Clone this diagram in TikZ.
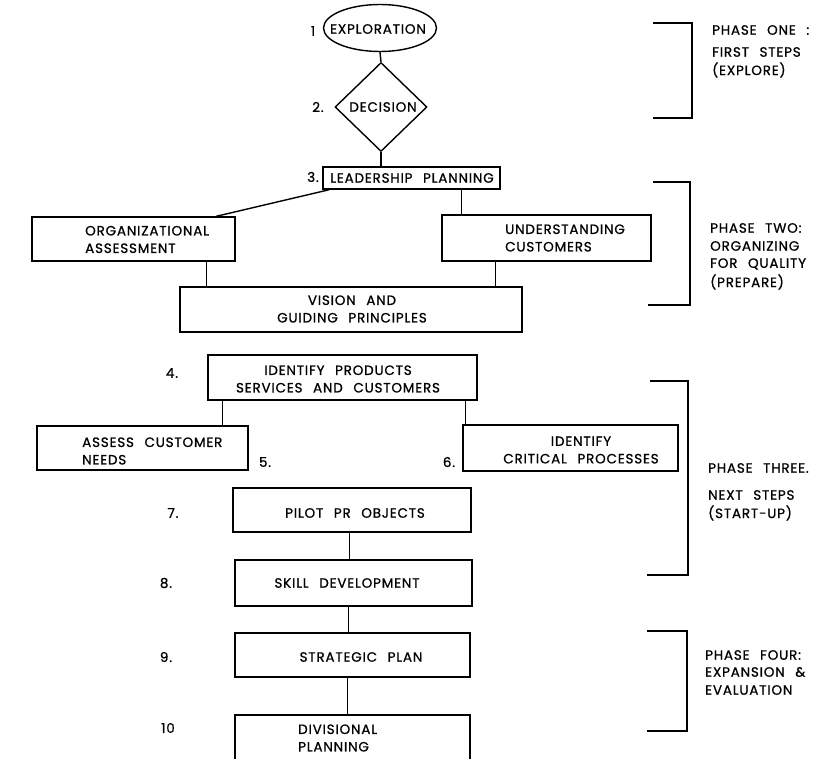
\documentclass[tikz,border=0pt]{standalone}
\usepackage{fontspec}
\setmainfont{Poppins}[LetterSpace=6, WordSpace=2.4, FakeBold=0.8]
\usetikzlibrary{shapes.geometric,calc}
\begin{document}
\begin{tikzpicture}[x=1pt,y=-1pt,
  every node/.style={font=\fontsize{13.5}{17.5}\selectfont},
  box/.style={draw, line width=1.4pt, rectangle, inner sep=0pt},
  txt/.style={inner sep=0pt, align=center},
  ltxt/.style={inner sep=0pt, align=left, anchor=west},
  num/.style={inner sep=0pt},
  link/.style={line width=1.4pt},
  brk/.style={line width=1.6pt}]
\useasboundingbox[fill=white] (0,0) rectangle (822,759);

% ---- top: exploration, decision, leadership
\node[draw, ellipse, line width=1.4pt, inner sep=0pt, minimum width=113pt, minimum height=47pt] (ell) at (380,28) {};
\node[txt] (tell) at (378,29) {EXPLORATION};
\node[num] (n1) at (313,31) {1};
\node[draw, diamond, aspect=1, line width=1.4pt, inner sep=0pt, minimum width=92pt, minimum height=89pt] (dia) at (381,107) {};
\node[txt] (tdia) at (383,107) {DECISION};
\node[num] (n2) at (318,107) {2.};
\node[box, minimum width=177pt, minimum height=22pt] (lead) at (411.5,178) {};
\node[txt] (tlead) at (412,178) {LEADERSHIP PLANNING};
\node[num] (n3) at (313,177) {3.};

% ---- phase two boxes
\node[box, minimum width=203pt, minimum height=44pt] (org) at (133.5,239) {};
\node[ltxt] (torg) at (85,239.5) {ORGANIZATIONAL\\ASSESSMENT};
\node[box, minimum width=209pt, minimum height=46pt] (und) at (546.5,238) {};
\node[ltxt] (tund) at (505,238) {UNDERSTANDING\\CUSTOMERS};
\node[box, minimum width=342pt, minimum height=45pt] (vis) at (351,309.5) {};
\node[txt] (tvis) at (352,309) {VISION AND\\GUIDING PRINCIPLES};

% ---- phase three boxes
\node[box, minimum width=269pt, minimum height=45pt] (prod) at (342.5,377.5) {};
\node[txt] (tprod) at (338,379) {IDENTIFY PRODUCTS\\SERVICES AND CUSTOMERS};
\node[num] (n4) at (172,373) {4.};
\node[box, minimum width=211pt, minimum height=44pt] (ass) at (142.5,448) {};
\node[ltxt] (tass) at (82,451) {ASSESS CUSTOMER\\NEEDS};
\node[num] (n5) at (265,462) {5.};
\node[box, minimum width=215pt, minimum height=46pt] (crit) at (570.5,448) {};
\node[txt] (tcrit) at (581,450) {IDENTIFY\\CRITICAL PROCESSES};
\node[num] (n6) at (449,462) {6.};
\node[box, minimum width=238pt, minimum height=44pt] (pilot) at (352,510) {};
\node[txt] (tpilot) at (355,513) {PILOT PR OBJECTS};
\node[num] (n7) at (173,513) {7.};

% ---- phase four boxes
\node[box, minimum width=237pt, minimum height=46pt] (skill) at (353.5,583) {};
\node[txt] (tskill) at (347,583) {SKILL DEVELOPMENT};
\node[num] (n8) at (166,583) {8.};
\node[box, minimum width=235pt, minimum height=44pt] (strat) at (352.5,655) {};
\node[txt] (tstrat) at (361,657) {STRATEGIC PLAN};
\node[num] (n9) at (166,657) {9.};
\node[box, minimum width=235pt, minimum height=55pt] (div) at (352.5,742.5) {};
\node[ltxt] (tdiv) at (298,738) {DIVISIONAL\\PLANNING};
\node[num] (n10) at (168,728) {10};

% ---- connectors
\draw[link] (ell.south) -- (dia.north);
\draw[link] (dia.south) -- (dia.south |- lead.north);
\coordinate (la) at ($(lead.south west)+(7,0)$);
\coordinate (oa) at ($(org.north west)+(185,0)$);
\draw[link] (la) -- (oa);
\coordinate (lb) at ($(lead.south west)+(139,0)$);
\draw[link] (lb) -- (lb |- und.north);
\coordinate (ub) at ($(und.south west)+(54,0)$);
\draw[link] (ub) -- (ub |- vis.north);
\coordinate (ob) at ($(org.south west)+(175,0)$);
\draw[link] (ob) -- (ob |- vis.north);
\coordinate (pa) at ($(prod.south west)+(15,0)$);
\draw[link] (pa) -- (pa |- ass.north);
\coordinate (pb) at ($(prod.south west)+(258,0)$);
\draw[link] (pb) -- (pb |- crit.north);
\coordinate (pc) at ($(pilot.south west)+(117,0)$);
\draw[link] (pc) -- (pc |- skill.north);
\coordinate (sa) at ($(skill.south west)+(114,0)$);
\draw[link] (sa) -- (sa |- strat.north);
\coordinate (sb) at ($(strat.south west)+(113,0)$);
\draw[link] (sb) -- (sb |- div.north);

% ---- phase brackets
\draw[brk] (653,23) -- (692,23) -- (692,118) -- (653,118);
\draw[brk] (653,182) -- (690,182) -- (690,305) -- (648,305);
\draw[brk] (650,381) -- (688,381) -- (688,575) -- (647,575);
\draw[brk] (647,631) -- (687,631) -- (687,731) -- (647,731);

% ---- phase labels
\node[ltxt] (p1a) at (712,30) {PHASE ONE :};
\node[ltxt] (p1b) at (712,52) {FIRST STEPS};
\node[ltxt] (p1c) at (712,70) {(EXPLORE)};
\node[ltxt] (p2a) at (710,228) {PHASE TWO:};
\node[ltxt] (p2b) at (710,246) {ORGANIZING};
\node[ltxt] (p2c) at (710,264) {FOR QUALITY};
\node[ltxt] (p2d) at (710,282) {(PREPARE)};
\node[ltxt] (p3a) at (708,468) {PHASE THREE.};
\node[ltxt] (p3b) at (708,495) {NEXT STEPS};
\node[ltxt] (p3c) at (708,513) {(START-UP)};
\node[ltxt] (p4a) at (705,655) {PHASE FOUR:};
\node[ltxt] (p4b) at (705,672) {EXPANSION \&};
\node[ltxt] (p4c) at (705,690) {EVALUATION};
\end{tikzpicture}
\end{document}
